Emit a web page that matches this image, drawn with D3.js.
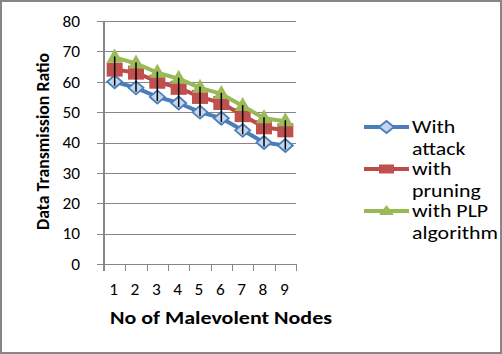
<!DOCTYPE html>
<html>
<head>
<meta charset="utf-8">
<script src="https://cdn.jsdelivr.net/npm/d3@7"></script>
<style>
  html, body { margin: 0; padding: 0; background: #fff; }
  svg { display: block; }
</style>
</head>
<body>
<div id="chart"></div>
<script>
const categories = ['1', '2', '3', '4', '5', '6', '7', '8', '9'];
const withAttack = [60, 58, 55, 53, 50, 48, 44, 40, 39];
const withPruning = [64, 63, 60, 58, 55, 53, 49, 45, 44];
const withPLP = [68, 66, 63, 61, 58, 56, 52, 48, 47];
const yTicks = [0, 10, 20, 30, 40, 50, 60, 70, 80];

const series = [
    { name: ['With', 'attack'], values: withAttack, color: '#4a7ebb', marker: 'diamond' },
    { name: ['with', 'pruning'], values: withPruning, color: '#be4b48', marker: 'square' },
    { name: ['with PLP', 'algorithm'], values: withPLP, color: '#98b954', marker: 'triangle' }
];

const W = 502, H = 354;
const font = 'Carlito, "Open Sans", "Liberation Sans", sans-serif';
const svg = d3.select('#chart').append('svg').attr('width', W).attr('height', H);

// outer frame
svg.append('rect').attr('x', 1).attr('y', 1).attr('width', W - 2).attr('height', H - 2)
    .attr('fill', '#fff').attr('stroke', '#868686').attr('stroke-width', 2);

const plot = { left: 104, right: 296, top: 21, bottom: 264 };
const x = d3.scaleBand().domain(categories).range([plot.left, plot.right]);
const y = d3.scaleLinear().domain([0, 80]).range([plot.bottom, plot.top]);

// stretch text horizontally (the source picture is a bit wider than tall)
function stretch(sel, k) {
    sel.each(function () {
        const w = this.getComputedTextLength();
        d3.select(this).attr('textLength', w * k).attr('lengthAdjust', 'spacingAndGlyphs');
    });
}

// gridlines + y ticks
svg.append('g').selectAll('line').data(yTicks).enter().append('line')
    .attr('x1', plot.left - 7).attr('x2', plot.right)
    .attr('y1', d => Math.round(y(d)) + 0.5).attr('y2', d => Math.round(y(d)) + 0.5)
    .attr('stroke', '#868686').attr('stroke-width', 1);

svg.append('g').selectAll('text').data(yTicks).enter().append('text')
    .attr('x', 80).attr('y', d => y(d)).attr('dy', '0.36em')
    .attr('text-anchor', 'end').attr('font-family', font).attr('font-size', 16)
    .attr('fill', '#000').text(d => d)
    .call(stretch, 1.08);

// x axis ticks
const xTickPos = categories.map(c => x(c)).concat([plot.right]);
svg.append('g').selectAll('line').data(xTickPos).enter().append('line')
    .attr('x1', d => Math.round(d) + 0.5).attr('x2', d => Math.round(d) + 0.5)
    .attr('y1', plot.bottom).attr('y2', plot.bottom + 7)
    .attr('stroke', '#868686');

svg.append('g').selectAll('text').data(categories).enter().append('text')
    .attr('x', d => x(d) + x.bandwidth() / 2 - 1).attr('y', 295)
    .attr('text-anchor', 'middle').attr('font-family', font).attr('font-size', 16)
    .attr('fill', '#000').text(d => d)
    .call(stretch, 1.08);

// y axis line
svg.append('line').attr('x1', plot.left).attr('x2', plot.left)
    .attr('y1', plot.top).attr('y2', plot.bottom + 7)
    .attr('stroke', '#868686').attr('stroke-width', 2);

// axis titles
svg.append('text').attr('transform', 'translate(49,141.5) rotate(-90)')
    .attr('text-anchor', 'middle').attr('font-family', font).attr('font-size', 19)
    .attr('font-weight', 'bold').text('Data Transmission Ratio')
    .attr('textLength', 177).attr('lengthAdjust', 'spacingAndGlyphs');
svg.append('text').attr('x', 221).attr('y', 324)
    .attr('text-anchor', 'middle').attr('font-family', font).attr('font-size', 17)
    .attr('font-weight', 'bold').text('No of Malevolent Nodes')
    .attr('textLength', 222).attr('lengthAdjust', 'spacingAndGlyphs');

const cx = c => x(c) + x.bandwidth() / 2;

function drawMarker(g, type, color, px, py, sx, sy) {
    if (type === 'diamond') {
        g.append('path').attr('d', `M${px},${py - sy}L${px + sx},${py}L${px},${py + sy}L${px - sx},${py}Z`)
            .attr('fill', '#c5d6ee').attr('stroke', color).attr('stroke-width', 1.8);
    } else if (type === 'square') {
        g.append('rect').attr('x', px - sx).attr('y', py - sy).attr('width', 2 * sx).attr('height', 2 * sy)
            .attr('fill', '#c0504d');
    } else {
        g.append('path').attr('d', `M${px},${py - sy - 2}L${px + sx},${py + sy - 2}L${px - sx},${py + sy - 2}Z`)
            .attr('fill', '#9bbb59');
    }
}

const line = d3.line().x((d, i) => cx(categories[i])).y(d => y(d));

series.forEach(s => {
    svg.append('path').datum(s.values).attr('d', line)
        .attr('fill', 'none').attr('stroke', s.color).attr('stroke-width', 4)
        .attr('stroke-linejoin', 'round');
    const g = svg.append('g');
    const sz = s.marker === 'square' ? [8, 7] : s.marker === 'diamond' ? [7.5, 6.5] : [8, 7];
    s.values.forEach((v, i) => drawMarker(g, s.marker, s.color, cx(categories[i]), y(v), sz[0], sz[1]));
});

// high-low lines
svg.append('g').selectAll('line').data(categories).enter().append('line')
    .attr('x1', c => cx(c)).attr('x2', c => cx(c))
    .attr('y1', (c, i) => y(d3.max(series, s => s.values[i])) - 1)
    .attr('y2', (c, i) => y(d3.min(series, s => s.values[i])) + 4)
    .attr('stroke', '#000').attr('stroke-width', 1.5);

// legend
const legY = [127, 169, 211];
const legSize = { diamond: [7.5, 6], square: [7.5, 4.5], triangle: [7.5, 5] };
series.forEach((s, i) => {
    const ly = legY[i];
    svg.append('line').attr('x1', 364).attr('x2', 409).attr('y1', ly).attr('y2', ly)
        .attr('stroke', s.color).attr('stroke-width', 4);
    drawMarker(svg.append('g'), s.marker, s.color, 386.5, ly + (s.marker === 'triangle' ? 1 : 0),
        legSize[s.marker][0], legSize[s.marker][1]);
    s.name.forEach((t, k) => {
        svg.append('text').attr('x', 412).attr('y', ly + 6 + k * 22)
            .attr('font-family', font).attr('font-size', 19).attr('fill', '#000').text(t)
            .call(stretch, 1.15);
    });
});
</script>
</body>
</html>
